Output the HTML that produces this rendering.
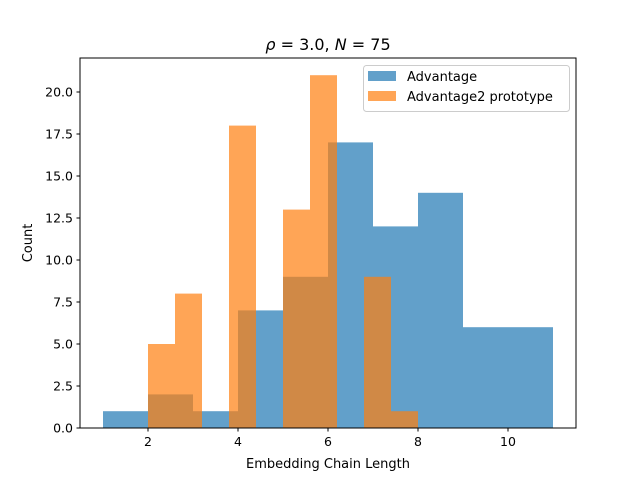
<!DOCTYPE html>
<html><head><meta charset="utf-8"><style>
body{margin:0;background:#fff}
svg{display:block;font-family:"DejaVu Sans","Liberation Sans",sans-serif}
</style></head><body>
<svg id="chart" width="640" height="480" xmlns="http://www.w3.org/2000/svg">
<rect width="640" height="480" fill="#fff"/>
<g id="bars"></g>
<rect x="80" y="58" width="496" height="370" fill="none" stroke="#000" stroke-width="1"/>
<g id="axes" font-size="12.5" fill="#000"></g>
<text x="328" y="50" text-anchor="middle" font-size="16"><tspan font-style="italic">ρ</tspan> = 3.0, <tspan font-style="italic">N</tspan> = 75</text>
<text x="328" y="468" text-anchor="middle" font-size="13">Embedding Chain Length</text>
<text transform="translate(32,243) rotate(-90)" text-anchor="middle" font-size="13">Count</text>
<g>
<rect x="363.5" y="65.5" width="206" height="46" rx="3" fill="#fff" fill-opacity="0.8" stroke="#ccc"/>
<rect x="368" y="71" width="28" height="10" fill="#1f77b4" fill-opacity="0.7"/>
<text x="407" y="81" font-size="13">Advantage</text>
<rect x="368" y="91" width="28" height="10" fill="#ff7f0e" fill-opacity="0.7"/>
<text x="407" y="101" font-size="13">Advantage2 prototype</text>
</g>
</svg>
<script>
const blueEdges=[1,2,3,4,5,6,7,8,9,10,11];
const blueCounts=[1,2,1,7,9,17,12,14,6,6];
const orangeEdges=[2,2.6,3.2,3.8,4.4,5.0,5.6,6.2,6.8,7.4,8.0];
const orangeCounts=[5,8,0,18,0,13,21,0,9,1];
const xTicks=[2,4,6,8,10];
const yTicks=[0,2.5,5,7.5,10,12.5,15,17.5,20];
const yTickLabels=["0.0","2.5","5.0","7.5","10.0","12.5","15.0","17.5","20.0"];
const NS="http://www.w3.org/2000/svg";
const xs=v=>58+45*v;
const ys=v=>428-16.8*v;
const bars=document.getElementById('bars');
function drawHist(edges,counts,color,name){
  counts.forEach((c,i)=>{
    if(c<=0)return;
    const r=document.createElementNS(NS,'rect');
    r.setAttribute('x',xs(edges[i]));
    r.setAttribute('width',xs(edges[i+1])-xs(edges[i]));
    r.setAttribute('y',ys(c));
    r.setAttribute('height',ys(0)-ys(c));
    r.setAttribute('fill',color);
    r.setAttribute('fill-opacity','0.7');
    
    
    bars.appendChild(r);
  });
}
drawHist(blueEdges,blueCounts,'#1f77b4','advantage');
drawHist(orangeEdges,orangeCounts,'#ff7f0e','advantage2');
const axes=document.getElementById('axes');
xTicks.forEach(t=>{
  const l=document.createElementNS(NS,'line');
  l.setAttribute('x1',xs(t));l.setAttribute('x2',xs(t));
  l.setAttribute('y1',428);l.setAttribute('y2',431.5);
  l.setAttribute('stroke','#000');
  
  
  axes.appendChild(l);
  const tx=document.createElementNS(NS,'text');
  tx.setAttribute('x',xs(t));tx.setAttribute('y',446);
  tx.setAttribute('text-anchor','middle');
  tx.textContent=t;
  
  
  axes.appendChild(tx);
});
yTicks.forEach((t,i)=>{
  const l=document.createElementNS(NS,'line');
  l.setAttribute('x1',76.5);l.setAttribute('x2',80);
  l.setAttribute('y1',ys(t));l.setAttribute('y2',ys(t));
  l.setAttribute('stroke','#000');
  
  
  axes.appendChild(l);
  const tx=document.createElementNS(NS,'text');
  tx.setAttribute('x',73);tx.setAttribute('y',ys(t)+4.5);
  tx.setAttribute('text-anchor','end');
  tx.textContent=yTickLabels[i];
  
  
  axes.appendChild(tx);
});
</script>
</body></html>
